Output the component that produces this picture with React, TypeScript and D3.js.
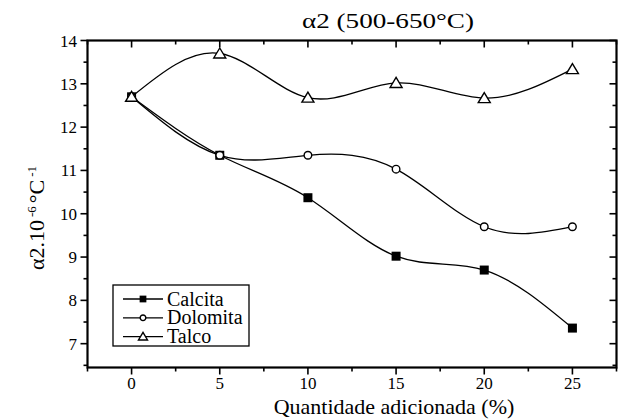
import { useEffect, useRef } from 'react';
import * as d3 from 'd3';

// chart data
const quantities = [0, 5, 10, 15, 20, 25];
const calcita = [12.7, 11.35, 10.37, 9.02, 8.7, 7.36];
const dolomita = [12.7, 11.35, 11.35, 11.03, 9.7, 9.7];
const talco = [12.7, 13.7, 12.68, 13.02, 12.67, 13.34];
const seriesNames = ['Calcita', 'Dolomita', 'Talco'];
const xTicks = [0, 5, 10, 15, 20, 25];
const yTicks = [7, 8, 9, 10, 11, 12, 13, 14];

const W = 629;
const H = 419;
const FONT = '"Liberation Serif", "Times New Roman", serif';

function App() {
	const ref = useRef<SVGSVGElement>(null);

	useEffect(() => {
		const svg = d3.select(ref.current);
		svg.selectAll('*').remove();

		const left = 87.5, right = 616.5, top = 40.5, bottom = 367.5;
		const x = d3.scaleLinear().domain([-2.5, 27.5]).range([left, right]);
		const y = d3.scaleLinear().domain([6.45, 14]).range([bottom, top]);

		const minorX = d3.range(-2.5, 27.6, 2.5).filter((v) => !xTicks.includes(v));
		const minorY = d3.range(6.5, 14.01, 0.5).filter((v) => !yTicks.includes(v));

		const g = svg.append('g');

		// ticks: left/bottom outward, top/right inward
		const tick = (x1: number, y1: number, x2: number, y2: number) =>
			g.append('line').attr('x1', x1).attr('y1', y1).attr('x2', x2).attr('y2', y2)
				.attr('stroke', '#000').attr('stroke-width', 1.6);

		xTicks.forEach((v) => {
			tick(x(v), bottom, x(v), bottom + 7);
			tick(x(v), top, x(v), top + 7);
		});
		minorX.forEach((v) => {
			tick(x(v), bottom, x(v), bottom + 4);
			tick(x(v), top, x(v), top + 4);
		});
		yTicks.forEach((v) => {
			tick(left - 7, y(v), left, y(v));
			tick(right - 7, y(v), right, y(v));
		});
		minorY.forEach((v) => {
			tick(left - 4, y(v), left, y(v));
			tick(right - 4, y(v), right, y(v));
		});

		// frame
		g.append('rect')
			.attr('x', left).attr('y', top)
			.attr('width', right - left).attr('height', bottom - top)
			.attr('fill', 'none').attr('stroke', '#000').attr('stroke-width', 2.2);

		// tick labels
		g.selectAll('.xl').data(xTicks).enter().append('text')
			.attr('x', (d) => x(d)).attr('y', 389)
			.attr('text-anchor', 'middle')
			.style('font-family', FONT).style('font-size', '17px')
			.text((d) => d);
		g.selectAll('.yl').data(yTicks).enter().append('text')
			.attr('x', 77).attr('y', (d) => y(d) + 6)
			.attr('text-anchor', 'end')
			.style('font-family', FONT).style('font-size', '17px')
			.text((d) => d);

		// lines
		const allSeries = [calcita, dolomita, talco];
		const line = d3.line<number>()
			.x((_, i) => x(quantities[i]))
			.y((d) => y(d))
			.curve(d3.curveNatural);
		allSeries.forEach((s) => {
			g.append('path').attr('d', line(s)).attr('fill', 'none')
				.attr('stroke', '#000').attr('stroke-width', 1.3);
		});

		const marker = (sel: any, k: number, s: number) => {
			if (k === 0) {
				sel.append('rect').attr('x', -4.5 * s).attr('y', -4.5 * s)
					.attr('width', 9 * s).attr('height', 9 * s).attr('fill', '#000');
			} else if (k === 1) {
				sel.append('circle').attr('r', 3.8 * s).attr('fill', '#fff')
					.attr('stroke', '#000').attr('stroke-width', 1.4);
			} else {
				sel.append('path')
					.attr('d', `M0,${-5.5 * s}L${6 * s},${4.5 * s}L${-6 * s},${4.5 * s}Z`)
					.attr('fill', '#fff').attr('stroke', '#000').attr('stroke-width', 1.4);
			}
		};

		allSeries.forEach((s, k) => {
			s.forEach((v, i) => {
				const m = g.append('g').attr('transform', `translate(${x(quantities[i])},${y(v)})`);
				marker(m, k, 1);
			});
		});

		// legend
		const lx = 113, ly = 285;
		g.append('rect').attr('x', lx).attr('y', ly).attr('width', 136).attr('height', 61)
			.attr('fill', '#fff').attr('stroke', '#000').attr('stroke-width', 1.3);
		seriesNames.forEach((name, k) => {
			const cy = ly + 14 + k * 18.8;
			g.append('line').attr('x1', lx + 10).attr('x2', lx + 50)
				.attr('y1', cy).attr('y2', cy).attr('stroke', '#000').attr('stroke-width', 1.3);
			const m = g.append('g').attr('transform', `translate(${lx + 30},${cy})`);
			marker(m, k, 0.75);
			g.append('text').attr('x', lx + 54).attr('y', cy + 6.5)
				.style('font-family', FONT).style('font-size', '20px')
				.text(name);
		});

		// title
		g.append('text').attr('x', 388).attr('y', 28).attr('text-anchor', 'middle')
			.attr('textLength', 172).attr('lengthAdjust', 'spacingAndGlyphs')
			.style('font-family', FONT).style('font-size', '22px')
			.text('α2 (500-650°C)');

		// x title
		g.append('text').attr('x', 394).attr('y', 414).attr('text-anchor', 'middle')
			.style('font-family', FONT).style('font-size', '22px')
			.text('Quantidade adicionada (%)');

		// y title
		const yt = g.append('text')
			.attr('transform', 'translate(44,218) rotate(-90)')
			.attr('text-anchor', 'middle')
			.style('font-family', FONT).style('font-size', '22px');
		yt.append('tspan').text('α2.10');
		yt.append('tspan').attr('dy', -8).attr('dx', 3).style('font-size', '13px').text('-6');
		yt.append('tspan').attr('dy', 8).attr('dx', 3).text('°C');
		yt.append('tspan').attr('dy', -8).attr('dx', 3).style('font-size', '13px').text('-1');
	}, []);

	return (
		<svg ref={ref} width={W} height={H}
			style={{ position: 'absolute', left: 0, top: 0, background: '#fff' }} />
	);
}

export default App;
